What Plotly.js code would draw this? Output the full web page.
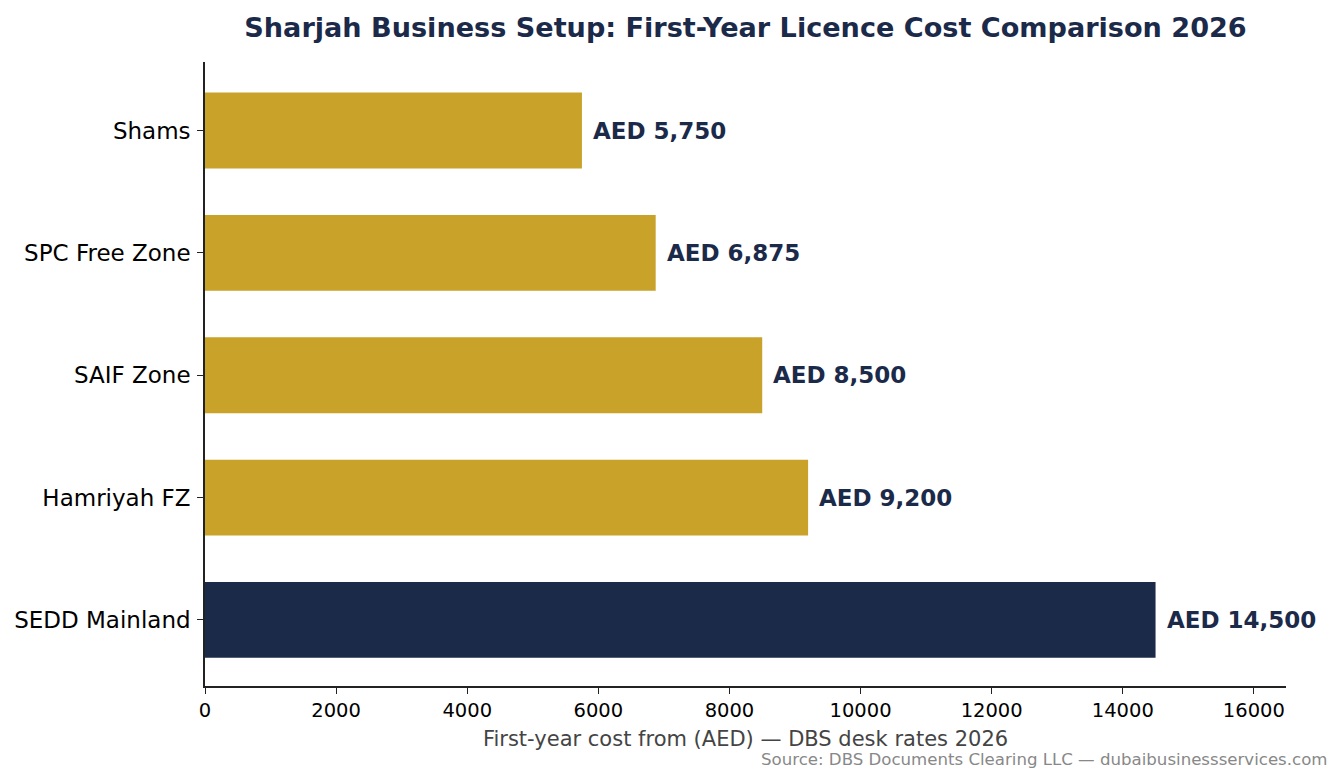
<!DOCTYPE html>
<html>
<head>
<meta charset="utf-8">
<script src="https://cdn.plot.ly/plotly-3.0.1.min.js"></script>
<style>
html,body{margin:0;padding:0;background:#fff;}
#chart{width:1344px;height:783px;}
</style>
</head>
<body>
<div id="chart"></div>
<script>
// first-year licence cost, top to bottom as drawn
let zones = ["Shams", "SPC Free Zone", "SAIF Zone", "Hamriyah FZ", "SEDD Mainland"];
let costs = [5750, 6875, 8500, 9200, 14500];
let costLabels = ["AED 5,750", "AED 6,875", "AED 8,500", "AED 9,200", "AED 14,500"];
let xTicks = [0, 2000, 4000, 6000, 8000, 10000, 12000, 14000, 16000];

const NAVY = "#1c2a4a", GOLD = "#c9a22a";
let barColors = zones.map(z => z === "SEDD Mainland" ? NAVY : GOLD);

let trace = {
  type: "bar", orientation: "h",
  x: costs, y: zones, width: 0.62,
  marker: {color: barColors, line: {width: 0}},
  hoverinfo: "x+y"
};

let notes = costs.map((v, i) => ({
  x: v, y: zones[i], xref: "x", yref: "y",
  text: costLabels[i], showarrow: false,
  xanchor: "left", xshift: 9,
  font: {family: "DejaVu Sans", size: 23, color: NAVY, weight: "bold"}
}));
notes.push({
  xref: "paper", yref: "paper", x: 1.0398, y: -0.1,
  xanchor: "right", yanchor: "top", showarrow: false,
  text: "Source: DBS Documents Clearing LLC — dubaibusinessservices.com",
  font: {family: "DejaVu Sans", size: 16.6, color: "#888888"}
});

let layout = {
  width: 1344, height: 783,
  margin: {l: 205, r: 58, t: 62, b: 97},
  paper_bgcolor: "#fff", plot_bgcolor: "#fff",
  font: {family: "DejaVu Sans", color: "#000"},
  showlegend: false,
  title: {
    text: "<b>Sharjah Business Setup: First-Year Licence Cost Comparison 2026</b>",
    x: 0.5547, xanchor: "center", y: 0.965, yanchor: "middle",
    font: {family: "DejaVu Sans", size: 27.1, color: NAVY}
  },
  xaxis: {
    range: [0, 16490], tickvals: xTicks, ticktext: xTicks.map(String),
    showgrid: false, zeroline: false,
    showline: true, linecolor: "#222", linewidth: 1.6,
    ticks: "outside", ticklen: 6, tickwidth: 1.4, tickcolor: "#222",
    tickfont: {family: "DejaVu Sans", size: 19.5, color: "#000"},
    title: {text: "First-year cost from (AED) — DBS desk rates 2026", standoff: 10,
            font: {family: "DejaVu Sans", size: 21, color: "#444"}}
  },
  yaxis: {
    type: "category", range: [4.54, -0.56],
    showgrid: false, zeroline: false,
    showline: true, linecolor: "#222", linewidth: 1.6,
    ticks: "outside", ticklen: 6, tickwidth: 1.4, tickcolor: "#222",
    ticklabelstandoff: 2,
    tickfont: {family: "DejaVu Sans", size: 23, color: "#000"}
  },
  annotations: notes
};

Plotly.newPlot("chart", [trace], layout, {displayModeBar: false});
</script>
</body>
</html>
